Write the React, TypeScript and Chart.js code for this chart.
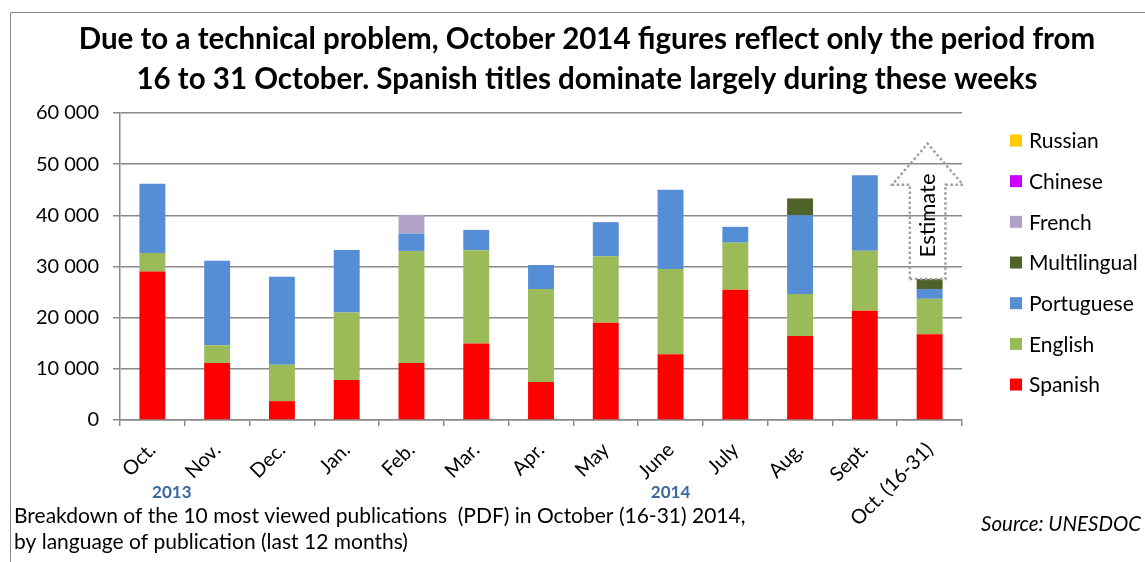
import React, { useEffect, useRef } from 'react';
import { Chart, registerables } from 'chart.js';

Chart.register(...registerables);

const W = 1145;
const H = 562;
const FONT = 'Lato, "Open Sans", sans-serif';
const GRID = '#8a8a8a';

const months = ['Oct.', 'Nov.', 'Dec.', 'Jan.', 'Feb.', 'Mar.', 'Apr.', 'May', 'June', 'July', 'Aug.', 'Sept.', 'Oct. (16-31)'];
const spanish = [29000, 11140, 3690, 7800, 11140, 14940, 7420, 18990, 12840, 25450, 16440, 21340, 16770];
const english = [3650, 3470, 7130, 13220, 21900, 18230, 18170, 13010, 16670, 9220, 8170, 11760, 6920];
const portuguese = [13530, 16530, 17180, 12220, 3400, 3990, 4700, 6660, 15490, 3080, 15420, 14710, 1900];
const multilingual = [0, 0, 0, 0, 0, 0, 0, 0, 0, 0, 3270, 0, 1960];
const french = [0, 0, 0, 0, 3660, 0, 0, 0, 0, 0, 0, 0, 0];
const chinese = [0, 0, 0, 0, 0, 0, 0, 0, 0, 0, 0, 0, 0];
const russian = [0, 0, 0, 0, 0, 0, 0, 0, 0, 0, 0, 0, 0];
const yTickValues = [0, 10000, 20000, 30000, 40000, 50000, 60000];

const titleLines = [
  'Due to a technical problem, October 2014 figures reflect only the period from',
  '16 to 31 October. Spanish titles dominate largely during these weeks',
];
const footerLines = [
  'Breakdown of the 10 most viewed publications  (PDF) in October (16-31) 2014,',
  'by language of publication (last 12 months)',
];
const sourceText = 'Source: UNESDOC';
const estimateText = 'Estimate';
const yearLabels = ['2013', '2014'];
const yearIndex = [0.3, 8];
const arrowTipValue = 54000;
const arrowHeadValue = 46000;

const fmt = (v: number) => String(v).replace(/\B(?=(\d{3})+(?!\d))/g, ' ');

const decorPlugin = {
  id: 'decor',
  afterDraw(chart: any) {
    const { ctx } = chart;
    const xs = chart.scales.x;
    const ys = chart.scales.y;
    ctx.save();

    // frame
    ctx.strokeStyle = '#868686';
    ctx.lineWidth = 1;
    ctx.beginPath();
    ctx.moveTo(10.5, H);
    ctx.lineTo(10.5, 12.5);
    ctx.lineTo(W, 12.5);
    ctx.stroke();

    // title
    ctx.fillStyle = '#000';
    ctx.textAlign = 'center';
    ctx.textBaseline = 'alphabetic';
    ctx.font = `bold 29.5px ${FONT}`;
    titleLines.forEach((t, i) => ctx.fillText(t, 587, 49 + i * 39.5));

    // legend (reversed order)
    const ds = chart.data.datasets.slice().reverse();
    ctx.font = `21px ${FONT}`;
    ctx.textAlign = 'left';
    ctx.textBaseline = 'middle';
    ds.forEach((d: any, i: number) => {
      const cy = 140.5 + i * 40.67;
      ctx.fillStyle = d.backgroundColor;
      ctx.fillRect(1010, cy - 6, 12, 12);
      ctx.fillStyle = '#000';
      ctx.fillText(d.label, 1029, cy + 1);
    });

    // estimate arrow
    const last = months.length - 1;
    const cat = xs.getPixelForValue(1) - xs.getPixelForValue(0);
    const cx = xs.getPixelForValue(last) - 2;
    const total = spanish[last] + english[last] + portuguese[last] + multilingual[last] + french[last] + chinese[last] + russian[last];
    const yb = ys.getPixelForValue(total);
    const yTip = ys.getPixelForValue(arrowTipValue);
    const yHead = ys.getPixelForValue(arrowHeadValue);
    const sw = cat * 0.275;
    const hw = cat * 0.545;
    ctx.strokeStyle = '#a0a0a0';
    ctx.lineWidth = 2.5;
    ctx.setLineDash([2.5, 2.5]);
    ctx.beginPath();
    ctx.moveTo(cx - sw, yb);
    ctx.lineTo(cx - sw, yHead);
    ctx.lineTo(cx - hw, yHead);
    ctx.lineTo(cx, yTip);
    ctx.lineTo(cx + hw, yHead);
    ctx.lineTo(cx + sw, yHead);
    ctx.lineTo(cx + sw, yb);
    ctx.closePath();
    ctx.stroke();
    ctx.setLineDash([]);

    ctx.save();
    ctx.translate(cx, yb - (yb - yTip) * 0.47);
    ctx.rotate(-Math.PI / 2);
    ctx.fillStyle = '#000';
    ctx.font = `22px ${FONT}`;
    ctx.textAlign = 'center';
    ctx.textBaseline = 'middle';
    ctx.fillText(estimateText, 0, 0);
    ctx.restore();

    // years
    ctx.font = `bold 17px ${FONT}`;
    ctx.fillStyle = '#3b68a0';
    ctx.textAlign = 'center';
    ctx.textBaseline = 'alphabetic';
    yearLabels.forEach((t, i) => ctx.fillText(t, xs.getPixelForValue(yearIndex[i]), 498));

    // footers
    ctx.fillStyle = '#000';
    ctx.font = `21px ${FONT}`;
    ctx.textAlign = 'left';
    footerLines.forEach((t, i) => ctx.fillText(t, 14, 523 + i * 26));
    ctx.font = `italic 20.5px ${FONT}`;
    ctx.textAlign = 'right';
    ctx.fillText(sourceText, 1141, 531);

    ctx.restore();
  },
};

export default function App() {
  const ref = useRef<HTMLCanvasElement | null>(null);

  useEffect(() => {
    if (!ref.current) return;
    const mk = (label: string, data: number[], color: string) => ({
      label,
      data,
      backgroundColor: color,
      borderWidth: 0,
      categoryPercentage: 1,
      barPercentage: 0.4,
    });
    const chart = new Chart(ref.current, {
      type: 'bar',
      data: {
        labels: months,
        datasets: [
          mk('Spanish', spanish, '#ff0000'),
          mk('English', english, '#9bbb59'),
          mk('Portuguese', portuguese, '#558ed5'),
          mk('Multilingual', multilingual, '#4f6228'),
          mk('French', french, '#b3a2c7'),
          mk('Chinese', chinese, '#cc00ff'),
          mk('Russian', russian, '#ffcc00'),
        ],
      },
      options: {
        animation: false,
        responsive: false,
        devicePixelRatio: 1,
        layout: { padding: { top: 113, right: 183, left: 0, bottom: 0 } },
        plugins: {
          legend: { display: false },
          title: { display: false },
          tooltip: { enabled: false },
        },
        scales: {
          x: {
            stacked: true,
            grid: { display: true, drawOnChartArea: false, drawTicks: true, tickLength: 6, color: GRID, lineWidth: 1.5, offset: true },
            border: { display: true, color: GRID, width: 1.5 },
            ticks: { autoSkip: false, minRotation: 45, maxRotation: 45, padding: 12, color: '#000', font: { family: FONT, size: 20 } },
            afterFit: (s: any) => { s.height = H - 420; },
          },
          y: {
            stacked: true,
            min: 0,
            max: 60000,
            afterBuildTicks: (s: any) => { s.ticks = yTickValues.map((v) => ({ value: v })); },
            ticks: { padding: 14, color: '#000', font: { family: FONT, size: 20 }, callback: (v: any) => fmt(Number(v)) },
            grid: { color: GRID, lineWidth: 1.5, tickLength: 7 },
            border: { display: true, color: GRID, width: 1.5 },
            afterFit: (s: any) => { s.width = 120; },
          },
        },
      } as any,
      plugins: [decorPlugin],
    });
    return () => chart.destroy();
  }, []);

  return (
    <div style={{ position: 'absolute', left: 0, top: 0, width: W, height: H, background: '#fff' }}>
      <canvas ref={ref} width={W} height={H} style={{ width: W, height: H, display: 'block' }} />
    </div>
  );
}
